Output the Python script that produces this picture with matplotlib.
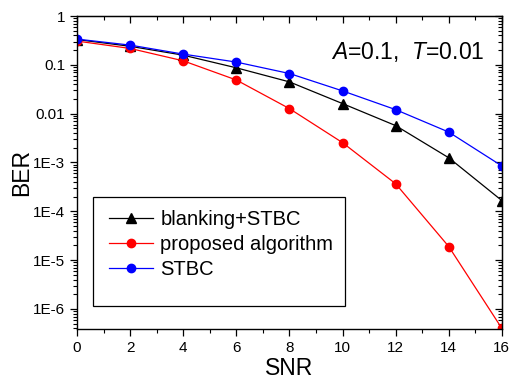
import numpy as np
import matplotlib
matplotlib.use("Agg")
import matplotlib.pyplot as plt
from matplotlib import ticker, patches

plt.rcParams["font.family"] = ["Liberation Sans", "DejaVu Sans"]
plt.rcParams["mathtext.fontset"] = "custom"
plt.rcParams["mathtext.rm"] = "Liberation Sans"
plt.rcParams["mathtext.it"] = "Liberation Sans:italic"

# data
snr = [0, 2, 4, 6, 8, 10, 12, 14, 16]
ber_blanking = [0.33, 0.24, 0.158, 0.087, 0.0448, 0.0161, 0.0057, 1.25e-3, 1.66e-4]
ber_proposed = [0.307, 0.217, 0.121, 0.049, 0.0127, 2.55e-3, 3.67e-4, 1.9e-5, 4.0e-7]
ber_stbc = [0.337, 0.254, 0.166, 0.114, 0.0665, 0.0293, 0.0121, 0.0042, 8.5e-4]

x_ticks = [0, 2, 4, 6, 8, 10, 12, 14, 16]
y_ticks = [1, 0.1, 0.01, 1e-3, 1e-4, 1e-5, 1e-6]
y_labels = ["1", "0.1", "0.01", "1E-3", "1E-4", "1E-5", "1E-6"]

fig = plt.figure(figsize=(5.1, 3.82), dpi=100)
ax = fig.add_axes([0.151, 0.139, 0.833, 0.819])

ax.plot(snr, ber_blanking, color="black", lw=0.9, marker="^", ms=6.5,
        label="blanking+STBC")
ax.plot(snr, ber_proposed, color="red", lw=0.9, marker="o", ms=6,
        label="proposed algorithm")
ax.plot(snr, ber_stbc, color="blue", lw=0.9, marker="o", ms=6,
        label="STBC")

ax.set_yscale("log")
ax.set_xlim(0, 16)
ax.set_ylim(3.9e-7, 1)

ax.set_xticks(x_ticks)
ax.xaxis.set_minor_locator(ticker.MultipleLocator(1))
ax.set_yticks(y_ticks)
ax.set_yticklabels(y_labels)
ax.yaxis.set_minor_locator(ticker.LogLocator(base=10, subs=np.arange(2, 10), numticks=20))
ax.yaxis.set_minor_formatter(ticker.NullFormatter())
ax.tick_params(which="major", direction="out", length=5, width=0.9, labelsize=11)
ax.tick_params(which="minor", direction="out", length=3, width=0.8)

# mirrored axes with inward ticks
top = ax.secondary_xaxis("top")
top.set_xticks(x_ticks)
top.xaxis.set_minor_locator(ticker.MultipleLocator(1))
top.tick_params(which="major", direction="in", length=5, width=0.9, labeltop=False)
top.tick_params(which="minor", direction="in", length=3, width=0.8)
right = ax.secondary_yaxis("right")
right.set_yticks(y_ticks)
right.yaxis.set_minor_locator(ticker.LogLocator(base=10, subs=np.arange(2, 10), numticks=20))
right.yaxis.set_minor_formatter(ticker.NullFormatter())
right.tick_params(which="major", direction="in", length=5, width=0.9, labelright=False)
right.tick_params(which="minor", direction="in", length=3, width=0.8)

for sp in ax.spines.values():
    sp.set_linewidth(1.0)

ax.set_xlabel("SNR", fontsize=16.5, labelpad=2)
ax.set_ylabel("BER", fontsize=16.5, labelpad=0)

ax.text(0.96, 0.885, r"$A$=0.1,  $T$=0.01", transform=ax.transAxes,
        ha="right", va="center", fontsize=16.5)

# Origin-style legend box: frame drawn separately, extra room at the bottom
box = patches.Rectangle((0.0377, 0.0735), 0.594, 0.348, transform=ax.transAxes,
                        facecolor="white", edgecolor="black", lw=0.9, zorder=4)
ax.add_patch(box)
leg = ax.legend(loc="upper left", bbox_to_anchor=(0.075, 0.379), fontsize=14.5,
                frameon=False, borderpad=0, labelspacing=0.3, handlelength=2.2,
                handletextpad=0.35, borderaxespad=0)
leg.set_zorder(5)

fig.savefig("out.png", dpi=100)
